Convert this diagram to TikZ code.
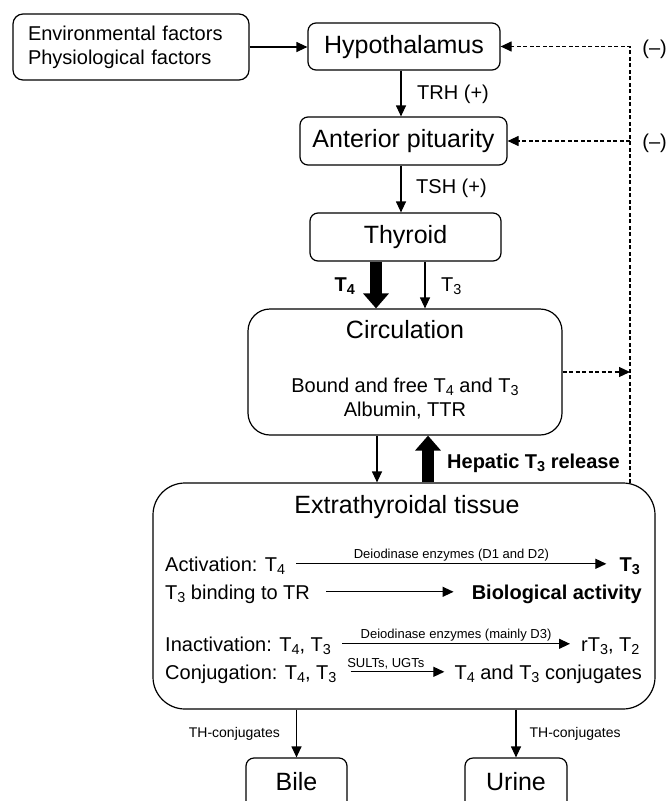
\documentclass[tikz,border=0pt]{standalone}
\usepackage{fontspec}
\setmainfont{Liberation Sans}
\usetikzlibrary{arrows.meta}
\newcommand{\tsub}[1]{\raisebox{-0.15em}{\scalebox{0.72}{#1}}}
\begin{document}
\begin{tikzpicture}[x=1pt,y=-1pt,
  box/.style={draw, line width=1.2pt, rounded corners=8pt, inner sep=0pt,
    font=\fontsize{25}{30}\selectfont, text height=18pt, text depth=5pt},
  bigbox/.style={draw, line width=1.2pt, inner sep=0pt},
  tx/.style={inner sep=0pt, font=\fontsize{20}{24}\selectfont},
  bf/.style={inner sep=0pt, font=\fontsize{20}{24}\selectfont\bfseries},
  ttl/.style={inner sep=0pt, font=\fontsize{25}{30}\selectfont},
  ln/.style={text height=14.4pt, text depth=0pt},
  small/.style={inner sep=0pt, font=\fontsize{13}{15}\selectfont},
  thc/.style={inner sep=0pt, font=\fontsize{14}{16}\selectfont},
  arr/.style={line width=1.2pt, -{Triangle[length=11pt,width=10pt]}},
  fat/.style={line width=12pt, -{Triangle[length=15pt,width=25pt]}},
  dsh/.style={line width=1.2pt, dash pattern=on 4pt off 2.5pt, -{Triangle[length=11pt,width=10pt]}}
]
\useasboundingbox (0,0) rectangle (668,801);
\clip (0,0) rectangle (668,801);

% boxes
\node[draw, line width=1.2pt, rounded corners=10pt, minimum height=66pt,
  text width=206pt, inner xsep=15pt, inner ysep=0pt, align=left,
  font=\fontsize{20}{24}\selectfont] (env) at (131,47)
  {Environmental factors\\Physiological factors};
\node[box, minimum width=192pt, minimum height=47pt] (hypo) at (404,46.5) {Hypothalamus};
\node[box, minimum width=207pt, minimum height=48pt] (ap) at (403.5,141) {Anterior pituarity};
\node[box, minimum width=191pt, minimum height=48pt] (thy) at (405.5,237) {Thyroid};
\node[bigbox, rounded corners=22pt, minimum width=314pt, minimum height=126pt] (circ) at (405,372) {};
\node[bigbox, rounded corners=32pt, minimum width=502pt, minimum height=226pt] (ext) at (404,596) {};
\node[box, minimum width=101pt, minimum height=51pt] (bile) at (296.5,783.5) {Bile};
\node[box, minimum width=102pt, minimum height=51pt] (urine) at (516,783.5) {Urine};

% labels
\node[tx, anchor=base west] (trh) at (417,99) {TRH (+)};
\node[tx, anchor=base west] (tsh) at (416,193) {TSH (+)};
\node[tx, anchor=base east] (m1) at (667,54) {(–)};
\node[tx, anchor=base east] (m2) at (667,148) {(–)};
\node[bf, anchor=base east] (t4l) at (355,291) {T\tsub{4}};
\node[tx, anchor=base west] (t3l) at (441,291) {T\tsub{3}};
\node[ttl, anchor=base] (circt) at (405,338) {Circulation};
\node[tx, anchor=base] (c1) at (405,392) {Bound and free T\tsub{4} and T\tsub{3}};
\node[tx, anchor=base] (c2) at (405,416) {Albumin, TTR};
\node[bf, anchor=base west] (hep) at (447,468) {Hepatic T\tsub{3} release};
\node[ttl, anchor=base] (extt) at (407,513) {Extrathyroidal tissue};

\node[tx, ln, anchor=base west] (act) at (165,571) {Activation: T\tsub{4}};
\node[bf, ln, anchor=base east] (actr) at (640,571) {T\tsub{3}};
\node[tx, ln, anchor=base west] (bind) at (165,599) {T\tsub{3} binding to TR};
\node[bf, ln, anchor=base east] (bio) at (642,599) {Biological activity};
\node[tx, ln, anchor=base west] (inact) at (165,651) {Inactivation: T\tsub{4}, T\tsub{3}};
\node[tx, ln, anchor=base west] (inactr) at (581,651) {rT\tsub{3}, T\tsub{2}};
\node[tx, ln, anchor=base west] (conj) at (165,679) {Conjugation: T\tsub{4}, T\tsub{3}};
\node[tx, ln, anchor=base east] (conjr) at (642,679) {T\tsub{4} and T\tsub{3} conjugates};

% connectors
\draw[arr] (env.east) -- (env.east -| hypo.west);
\draw[arr] ([xshift=-3pt]hypo.south) -- ([xshift=-3pt]hypo.south |- ap.north);
\draw[arr] ([xshift=-2.5pt]ap.south) -- ([xshift=-2.5pt]ap.south |- thy.north);
\draw[fat] ([xshift=-29.5pt]thy.south) -- ([xshift=-29.5pt]thy.south |- circ.north);
\draw[arr] ([xshift=19.5pt]thy.south) -- ([xshift=19.5pt]thy.south |- circ.north);
\draw[arr] ([xshift=-28pt]circ.south) -- ([xshift=-28pt]circ.south |- ext.north);
\draw[fat] ([xshift=23pt]circ.south |- ext.north) -- ([xshift=23pt]circ.south);

\coordinate (fb) at (630,483);
\draw[dsh] (fb) |- (hypo.east);
\draw[dsh] (fb |- ap.east) -- (ap.east);
\draw[dsh] (circ.east) -- (circ.east -| fb);

\draw[arr] ([xshift=11pt]act.east) -- ([xshift=-13pt]actr.west)
  node[midway, above=2pt, small] {Deiodinase enzymes (D1 and D2)};
\draw[arr] ([xshift=16pt]bind.east) -- ([xshift=-18pt]bio.west);
\draw[arr] ([xshift=11pt]inact.east) -- ([xshift=-11pt]inactr.west)
  node[midway, above=2pt, small] {Deiodinase enzymes (mainly D3)};
\draw[arr] ([xshift=14pt]conj.east) -- ([xshift=-10pt]conjr.west)
  node[at start, anchor=south west, xshift=-4pt, yshift=2pt, small] {SULTs, UGTs};

\draw[arr] (bile.north |- ext.south) -- (bile.north)
  node[midway, left=16pt, thc] {TH-conjugates};
\draw[arr] (urine.north |- ext.south) -- (urine.north)
  node[midway, right=13pt, thc] {TH-conjugates};
\end{tikzpicture}
\end{document}
